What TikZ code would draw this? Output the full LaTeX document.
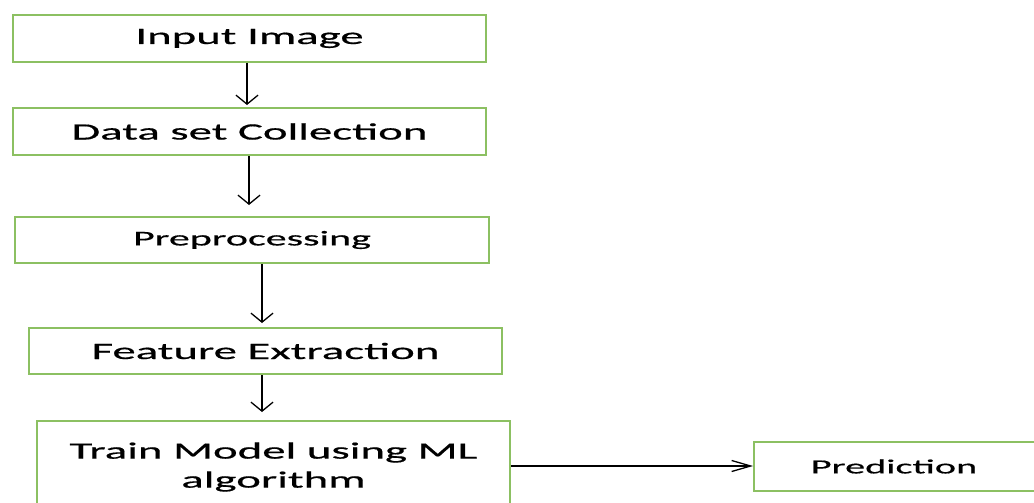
\documentclass[tikz,border=0pt]{standalone}
\usepackage{fontspec}
\newfontfamily\wfont[FakeStretch=2,FakeBold=0.6]{Carlito}
\usetikzlibrary{arrows.meta}
\definecolor{boxgreen}{RGB}{140,192,98}
\tikzset{
  box/.style={draw=boxgreen, line width=2pt, inner sep=0pt, anchor=north west, text=black,
    font=\wfont\fontsize{23.4}{29}\selectfont, align=center},
  varr/.style={line width=1.3pt, -{Straight Barb[length=9pt,width=22pt,line width=1.3pt]}},
  harr/.style={line width=1.3pt, -{Straight Barb[length=19pt,width=11pt,line width=1.3pt]}}
}
\begin{document}
\begin{tikzpicture}[x=1pt,y=-1pt]
\useasboundingbox (0,0) rectangle (1034,503);
\node[box, minimum width=473pt, minimum height=47pt] (b1) at (12,14) {Input Image};
\node[box, minimum width=473pt, minimum height=47pt] (b2) at (12,107) {Data set Collection};
\node[box, minimum width=474pt, minimum height=46pt, font=\wfont\fontsize{21}{26}\selectfont] (b3) at (14,216) {Preprocessing};
\node[box, minimum width=473pt, minimum height=46pt] (b4) at (28,327) {Feature Extraction};
\node[box, minimum width=473pt, minimum height=92pt] (b5) at (36,420) {Train Model using ML\\algorithm};
\node[box, minimum width=300pt, minimum height=49pt, font=\wfont\fontsize{20.1}{25}\selectfont] (b6) at (753,441) {\hspace*{-20pt}Prediction};
\coordinate (x1) at (247,0);
\coordinate (x2) at (249,0);
\coordinate (x3) at (262,0);
\coordinate (y5) at (0,466);
\draw[varr, shorten >=2pt] (b1.south -| x1) -- (b2.north -| x1);
\draw[varr, shorten >=11pt] (b2.south -| x2) -- (b3.north -| x2);
\draw[varr, shorten >=4pt] (b3.south -| x3) -- (b4.north -| x3);
\draw[varr, shorten >=8pt] (b4.south -| x3) -- (b5.north -| x3);
\draw[harr] (b5.east |- y5) -- (b6.west |- y5);
\end{tikzpicture}
\end{document}
